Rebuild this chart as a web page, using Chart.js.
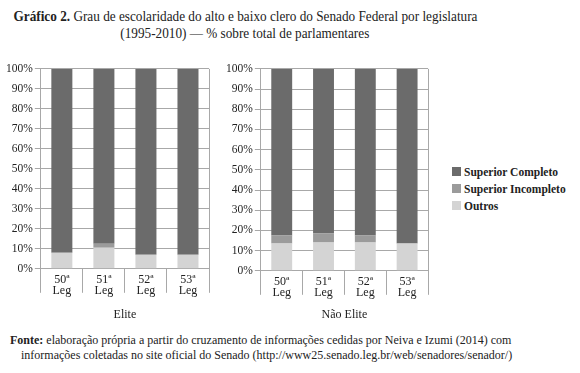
<!DOCTYPE html>
<html>
<head>
<meta charset="utf-8">
<script src="https://cdn.jsdelivr.net/npm/chart.js@4"></script>
<style>
  body { margin: 0; background: #fff; width: 580px; height: 373px; position: relative; overflow: hidden; font-family: "Liberation Serif", serif; color: #222; }
  .title { position: absolute; left: 0; top: 8px; width: 490px; text-align: center; font-size: 14px; line-height: 17px; white-space: nowrap; }
  .title span { display: inline-block; }
  .fonte { position: absolute; left: 10px; top: 333px; width: 570px; font-size: 12px; line-height: 14.5px; white-space: nowrap; }
  .fonte .l2 { padding-left: 11px; }
  .box { position: absolute; top: 60px; height: 265px; }
  #legend { position: absolute; left: 452px; top: 164px; font-size: 11.5px; font-weight: bold; }
  #legend div { height: 17px; line-height: 17px; white-space: nowrap; }
  #legend i { display: inline-block; width: 9px; height: 9px; margin-right: 3px; }
</style>
</head>
<body>
<div class="title"><span id="t1"><b>Gráfico 2.</b> Grau de escolaridade do alto e baixo clero do Senado Federal por legislatura</span><br><span id="t2">(1995-2010) — % sobre total de parlamentares</span></div>
<div class="box" style="left:0; width:215px;"><canvas id="eliteChart"></canvas></div>
<div class="box" style="left:195px; width:240px;"><canvas id="naoEliteChart"></canvas></div>
<div id="legend"></div>
<div class="fonte"><b>Fonte:</b> elaboração própria a partir do cruzamento de informações cedidas por Neiva e Izumi (2014) com<br><span class="l2">informações coletadas no site oficial do Senado (http://www25.senado.leg.br/web/senadores/senador/)</span></div>

<script>
const legislaturas = [["50ª", "Leg"], ["51ª", "Leg"], ["52ª", "Leg"], ["53ª", "Leg"]];
const seriesNames = ["Outros", "Superior Incompleto", "Superior Completo"];
const seriesColors = ["#d4d4d4", "#9b9b9b", "#6b6b6b"];

const eliteOutros = [8, 10.5, 7, 7];
const eliteIncompleto = [0, 2, 0, 0];
const eliteCompleto = [92, 87.5, 93, 93];

const naoEliteOutros = [13.5, 14, 14, 13.5];
const naoEliteIncompleto = [4, 4.5, 3.5, 0];
const naoEliteCompleto = [82.5, 81.5, 82.5, 86.5];

const yTicks = [0, 10, 20, 30, 40, 50, 60, 70, 80, 90, 100];

const serif = "'Liberation Serif', serif";
const gridGray = "#a8a8a8";

// squeeze the title lines to the width of the original typesetting
function fitWidth(id, target) {
  const el = document.getElementById(id);
  const w = el.getBoundingClientRect().width;
  el.style.transform = "scaleX(" + target / w + ")";
}
fitWidth("t1", 464);
fitWidth("t2", 249);

// legend, top to bottom: Completo, Incompleto, Outros
const legendEl = document.getElementById("legend");
for (let i = seriesNames.length - 1; i >= 0; i--) {
  const row = document.createElement("div");
  row.innerHTML = '<i style="background:' + seriesColors[i] + '"></i>' + seriesNames[i];
  legendEl.appendChild(row);
}

function makeDatasets(outros, incompleto, completo) {
  return [outros, incompleto, completo].map((d, i) => ({
    label: seriesNames[i],
    data: d,
    backgroundColor: seriesColors[i],
    borderWidth: 0,
    categoryPercentage: 1,
    barPercentage: 0.5,
  }));
}

function makeOptions(titleText, padding, titleGap) {
  return {
    responsive: true,
    maintainAspectRatio: false,
    animation: false,
    layout: { padding: padding },
    plugins: {
      legend: { display: false },
      tooltip: { enabled: false },
    },
    scales: {
      x: {
        stacked: true,
        offset: true,
        grid: {
          offset: true,
          drawOnChartArea: true,
          // only the outer borders run up through the plot, inner ones are just ticks
          color: (c) => (c.type === "tick" && c.index > 0 ? "transparent" : gridGray),
          tickColor: gridGray,
          tickLength: 24,
        },
        border: { color: gridGray },
        ticks: {
          color: "#222",
          padding: -19,
          font: { family: serif, size: 12, lineHeight: 0.95 },
        },
        title: {
          display: true,
          text: titleText,
          color: "#222",
          font: { family: serif, size: 12 },
          padding: { top: titleGap, bottom: 0 },
        },
      },
      y: {
        stacked: true,
        min: 0,
        max: 100,
        afterBuildTicks: (axis) => {
          axis.ticks = yTicks.map((v) => ({ value: v }));
        },
        grid: { color: gridGray, tickLength: 6 },
        border: { color: gridGray },
        ticks: {
          color: "#222",
          padding: 2,
          font: { family: serif, size: 11.5 },
          callback: (v) => v + "%",
        },
      },
    },
  };
}

new Chart(document.getElementById("eliteChart"), {
  type: "bar",
  data: {
    labels: legislaturas,
    datasets: makeDatasets(eliteOutros, eliteIncompleto, eliteCompleto),
  },
  options: makeOptions("Elite", { top: 3, left: 4, right: 6, bottom: 3 }, 30),
});

new Chart(document.getElementById("naoEliteChart"), {
  type: "bar",
  data: {
    labels: legislaturas,
    datasets: makeDatasets(naoEliteOutros, naoEliteIncompleto, naoEliteCompleto),
  },
  options: makeOptions("Não Elite", { top: 5, left: 29, right: 7, bottom: 3 }, 28),
});
</script>
</body>
</html>
